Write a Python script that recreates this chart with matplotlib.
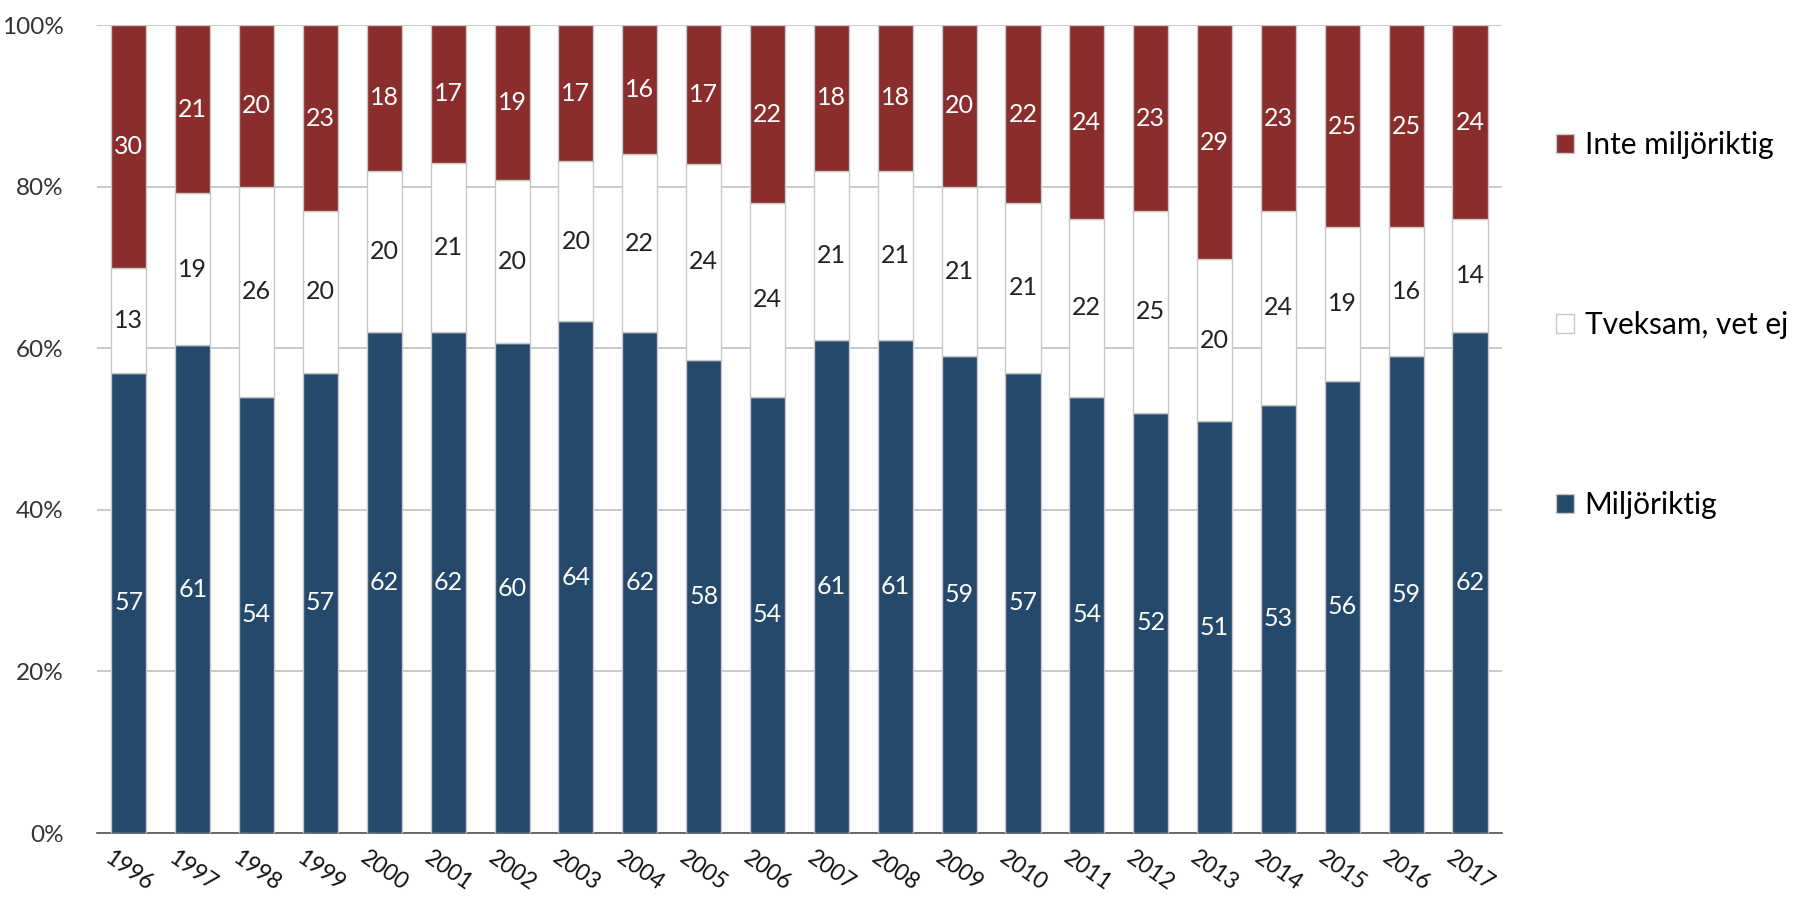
import matplotlib.pyplot as plt
import numpy as np

plt.rcParams['font.family'] = ['Lato', 'DejaVu Sans']

# Data
years = ['1996', '1997', '1998', '1999', '2000', '2001', '2002', '2003', '2004', '2005', '2006',
         '2007', '2008', '2009', '2010', '2011', '2012', '2013', '2014', '2015', '2016', '2017']
miljoriktig = [57, 61, 54, 57, 62, 62, 60, 64, 62, 58, 54, 61, 61, 59, 57, 54, 52, 51, 53, 56, 59, 62]
tveksam = [13, 19, 26, 20, 20, 21, 20, 20, 22, 24, 24, 21, 21, 21, 21, 22, 25, 20, 24, 19, 16, 14]
inte = [30, 21, 20, 23, 18, 17, 19, 17, 16, 17, 22, 18, 18, 20, 22, 24, 23, 29, 23, 25, 25, 24]

blue = '#25496B'
red = '#8B2D2D'

m = np.array(miljoriktig, dtype=float)
t = np.array(tveksam, dtype=float)
r = np.array(inte, dtype=float)
tot = m + t + r
mp, tp, rp = m / tot * 100, t / tot * 100, r / tot * 100

fig = plt.figure(figsize=(18.02, 8.99), dpi=100)
ax = fig.add_axes([0.0538, 0.0734, 0.7797, 0.8986])

x = np.arange(len(years))
w = 0.55
b1 = ax.bar(x, mp, w, color=blue, edgecolor='#C8C8C8', linewidth=1, label='Miljöriktig', zorder=3)
b2 = ax.bar(x, tp, w, bottom=mp, color='white', edgecolor='#C8C8C8', linewidth=1,
            label='Tveksam, vet ej', zorder=3)
b3 = ax.bar(x, rp, w, bottom=mp + tp, color=red, edgecolor='#C8C8C8', linewidth=1,
            label='Inte miljöriktig', zorder=3)

ax.bar_label(b1, labels=[str(v) for v in miljoriktig], label_type='center', color='white', fontsize=18)
ax.bar_label(b2, labels=[str(v) for v in tveksam], label_type='center', color='#222222', fontsize=18)
ax.bar_label(b3, labels=[str(v) for v in inte], label_type='center', color='white', fontsize=18)

ax.set_xlim(-0.5, len(years) - 0.5)
ax.set_ylim(0, 100)
ax.set_yticks([0, 20, 40, 60, 80, 100])
ax.set_yticklabels(['0%', '20%', '40%', '60%', '80%', '100%'], fontsize=17.5, color='#333333')
ax.set_xticks(x)
ax.set_xticklabels(years, rotation=-35, ha='center', fontsize=16.5, color='#111111')
ax.tick_params(axis='both', length=0)
ax.tick_params(axis='y', pad=24)
ax.tick_params(axis='x', pad=10)

ax.grid(axis='y', color='#C0C0C0', linewidth=1.2, zorder=0)
for s in ['top', 'right', 'left']:
    ax.spines[s].set_visible(False)
ax.spines['bottom'].set_color('#555555')
ax.spines['bottom'].set_linewidth(1.2)

handles = [b3, b2, b1]
leg = fig.legend(handles, ['Inte miljöriktig', 'Tveksam, vet ej', 'Miljöriktig'],
                 loc='upper left', bbox_to_anchor=(0.857, 0.868), frameon=False,
                 fontsize=21.5, labelspacing=5.1, handlelength=0.6, handleheight=0.6,
                 handletextpad=0.35, borderaxespad=0)

plt.savefig('out.png', dpi=100)
